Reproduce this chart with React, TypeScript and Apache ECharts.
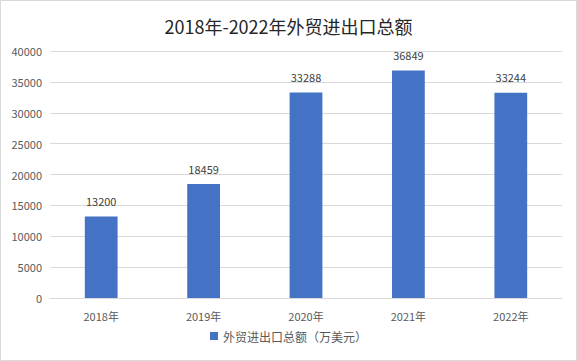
import React, { useEffect, useRef } from "react";
import * as echarts from "echarts";

const categories = ["2018年", "2019年", "2020年", "2021年", "2022年"];
const values = [13200, 18459, 33288, 36849, 33244];
const seriesName = "外贸进出口总额（万美元）";
const titleText = "2018年-2022年外贸进出口总额";

export default function App() {
  const ref = useRef<HTMLDivElement>(null);
  useEffect(() => {
    document.body.style.margin = "0";
    const chart = echarts.init(ref.current!, null, { renderer: "svg" });
    chart.setOption({
      animation: false,
      backgroundColor: "#ffffff",
      textStyle: { fontFamily: "'Noto Sans CJK SC', 'Liberation Sans', sans-serif" },
      title: {
        text: titleText,
        left: "center",
        top: 12,
        textStyle: { fontSize: 18, fontWeight: "normal", color: "#262626" },
      },
      graphic: [
        {
          type: "rect",
          shape: { x: 0.5, y: 0.5, width: 576, height: 360 },
          style: { fill: "none", stroke: "#d9d9d9", lineWidth: 1 },
          silent: true,
        },
      ],
      legend: {
        bottom: 14,
        left: "center",
        itemWidth: 8,
        itemHeight: 8,
        icon: "rect",
        itemGap: 4,
        textStyle: { fontSize: 12, color: "#595959" },
        data: [seriesName],
      },
      grid: { left: 50, right: 15, top: 51, bottom: 63, containLabel: false },
      xAxis: {
        type: "category",
        data: categories,
        axisLine: { lineStyle: { color: "#d9d9d9" } },
        axisTick: { show: false },
        axisLabel: { fontSize: 11, color: "#595959", margin: 12 },
      },
      yAxis: {
        type: "value",
        min: 0,
        max: 40000,
        interval: 5000,
        axisLine: { show: false },
        axisTick: { show: false },
        axisLabel: {
          fontSize: 11,
          color: "#595959",
          margin: 8,
          formatter: (v: number) => String(v),
        },
        splitLine: { lineStyle: { color: "#d9d9d9" } },
      },
      series: [
        {
          name: seriesName,
          type: "bar",
          data: values,
          barWidth: "32%",
          itemStyle: { color: "#4472C4" },
          label: { show: true, position: "top", fontSize: 11, color: "#404040", distance: 10 },
        },
      ],
    });
    return () => chart.dispose();
  }, []);
  return <div ref={ref} style={{ width: 577, height: 361, position: "absolute", left: 0, top: 0 }} />;
}
